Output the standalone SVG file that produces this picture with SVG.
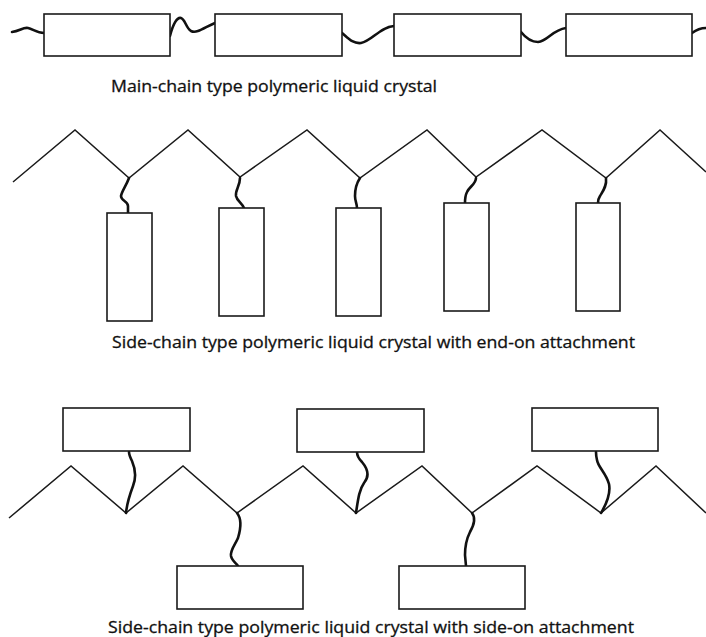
<svg xmlns="http://www.w3.org/2000/svg" width="706" height="637" viewBox="0 0 706 637">
<style>
.box{fill:#fff;stroke:#1a1a1a;stroke-width:1.6}
.zig{fill:none;stroke:#1a1a1a;stroke-width:1.5;stroke-linejoin:miter}
.chain{fill:none;stroke:#111;stroke-width:2.6;stroke-linecap:round}
.lbl{font-family:"Open Sans","Noto Sans","Liberation Sans",sans-serif;font-size:16.5px;fill:#111;stroke:#111;stroke-width:0.3}
</style>
<rect width="706" height="637" fill="#fff"/>
<g id="connectors">
<path class="chain" d="M12,32 C20,31 23,27 28,28 C33,29 37,33 44,33"/>
<path class="chain" d="M170,36 C173,24 177,17 181,18 C185,19 186,28 191,31 C197,34 205,27 215,23"/>
<path class="chain" d="M342,33 C348,38 353,44 361,43 C372,41 380,27 394,26"/>
<path class="chain" d="M521,32 C525,37 530,42 538,42 C548,41 552,30 566,28"/>
<path class="chain" d="M692,33 C696,30 700,28 706,28"/>
<path class="zig" d="M13,182 L75,130 L129,178 L188,130 L240,177 L307,130 L360,178 L427,130 L476,177 L542,130 L606,178 L660,130 L706,172"/>
<path class="chain" d="M129,178 C126,186 122,191 121,196 C121,201 128,201 128,206 L128,213"/>
<path class="chain" d="M240,178 C240,186 235,190 236,196 C237,201 242,203 244,208"/>
<path class="chain" d="M360,178 C356,184 355,190 355,196 C355,201 357,204 357,208"/>
<path class="chain" d="M476,178 C476,184 469,187 467,192 C465,196 465,200 465,203"/>
<path class="chain" d="M606,178 C607,186 603,191 600,196 C598,199 598,201 598,203"/>
<path class="zig" d="M9,518 L71,466 L126,513 L183,466 L237,513 L303,466 L356,513 L422,466 L472,513 L537,466 L601,513 L656,466 L706,513"/>
<path class="chain" d="M126,513 C127,503 130,494 133,486 C137,476 135,468 132,461 C130,457 129,454 129,452"/>
<path class="chain" d="M356,513 C358,500 359,490 364,483 C370,476 367,468 362,462 C358,458 357,455 357,452"/>
<path class="chain" d="M601,513 C607,503 611,494 609,484 C606,473 598,467 597,460 C596,456 596,454 596,452"/>
<path class="chain" d="M237,513 C242,519 241,528 238,538 C235,545 230,550 231,556 C232,561 237,564 238,566"/>
<path class="chain" d="M472,513 C476,518 474,525 470,532 C466,540 465,548 465,555 L466,566"/>
</g>
<g id="main-box-1"><rect class="box" x="44" y="14" width="126" height="42"/></g>
<g id="main-box-2"><rect class="box" x="215" y="14" width="127" height="42"/></g>
<g id="main-box-3"><rect class="box" x="394" y="14" width="127" height="42"/></g>
<g id="main-box-4"><rect class="box" x="566" y="14" width="126" height="42"/></g>
<g id="end-box-1"><rect class="box" x="107" y="213" width="45" height="108"/></g>
<g id="end-box-2"><rect class="box" x="219" y="208" width="45" height="108"/></g>
<g id="end-box-3"><rect class="box" x="336" y="208" width="45" height="108"/></g>
<g id="end-box-4"><rect class="box" x="444" y="203" width="45" height="108"/></g>
<g id="end-box-5"><rect class="box" x="576" y="203" width="44" height="108"/></g>
<g id="side-box-1"><rect class="box" x="63" y="408" width="127" height="43"/></g>
<g id="side-box-2"><rect class="box" x="297" y="409" width="127" height="43"/></g>
<g id="side-box-3"><rect class="box" x="532" y="408" width="126" height="43"/></g>
<g id="side-box-4"><rect class="box" x="177" y="566" width="126" height="43"/></g>
<g id="side-box-5"><rect class="box" x="399" y="566" width="126" height="43"/></g>
<g id="labels">
<text class="lbl" x="111" y="92" textLength="326" lengthAdjust="spacingAndGlyphs">Main-chain type polymeric liquid crystal</text>
<text class="lbl" x="112" y="348" textLength="523" lengthAdjust="spacingAndGlyphs">Side-chain type polymeric liquid crystal with end-on attachment</text>
<text class="lbl" x="108" y="633" textLength="526" lengthAdjust="spacingAndGlyphs">Side-chain type polymeric liquid crystal with side-on attachment</text>
</g>
</svg>
